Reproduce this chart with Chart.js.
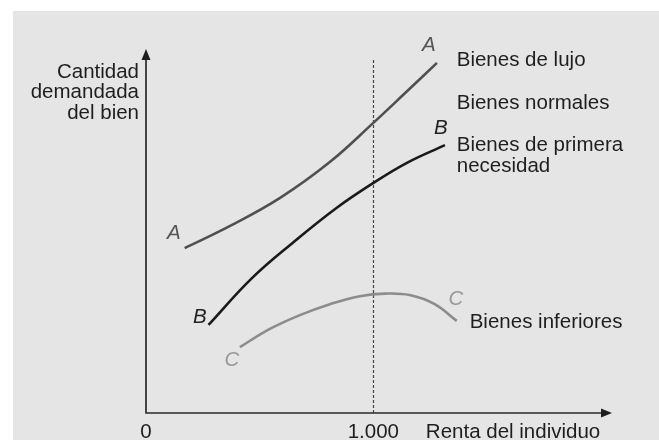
<!DOCTYPE html>
<html>
<head>
<meta charset="utf-8">
<script src="https://cdn.jsdelivr.net/npm/chart.js@4"></script>
<style>
  html, body { margin: 0; padding: 0; background: #ffffff; }
  #wrap { position: absolute; left: 13px; top: 11px; width: 646px; height: 429px; background: #e5e5e5; }
  canvas { display: block; }
</style>
</head>
<body>
<div id="wrap"><canvas id="c" width="646" height="429"></canvas></div>
<script>
// ---- data ----
const lujoX = [170, 370, 590, 810, 1000, 1140, 1280];
const lujoY = [45.3, 51.4, 59.1, 69.0, 79.7, 87.9, 96.2];
const necesidadX = [275, 465, 650, 835, 1000, 1150, 1315];
const necesidadY = [24.2, 37.0, 47.0, 56.2, 63.2, 68.8, 73.6];
const inferioresX = [413, 545, 677, 809, 941, 1051, 1160, 1270, 1367];
const inferioresY = [18.1, 23.1, 26.9, 29.9, 32.1, 32.8, 32.4, 29.9, 25.3];
const tickValues = [0, 1000];
const tickLabels = ["0", "1.000"];
const xAxisTitle = "Renta del individuo";
const yAxisTitle = ["Cantidad", "demandada", "del bien"];
const referenceIncome = 1000;
const referenceTop = 97;

// curve letter labels [text, x, y, colour]
const curveLetters = [
  ["A", 123, 49.5, "#555555"], ["A", 1244, 101, "#555555"],
  ["B", 237, 26.4, "#222222"], ["B", 1297, 78.3, "#222222"],
  ["C", 378, 14.6, "#999999"], ["C", 1363, 31.3, "#999999"]
];
// category labels [text, x, y]
const groupLabels = [
  ["Bienes de lujo", 1367, 97.0],
  ["Bienes normales", 1367, 85.2],
  ["Bienes de primera", 1367, 73.6],
  ["necesidad", 1367, 67.9],
  ["Bienes inferiores", 1424, 25.0]
];

const pts = (xs, ys) => xs.map((x, i) => ({x: x, y: ys[i]}));
const FONT = '20.5px "Liberation Sans", Arial, sans-serif';
const IFONT = 'italic 20.5px "Liberation Sans", Arial, sans-serif';

const decor = {
  id: 'decor',
  beforeDatasetsDraw(chart) {
    const ctx = chart.ctx, xs = chart.scales.x, ys = chart.scales.y;
    const x0 = xs.getPixelForValue(0), y0 = ys.getPixelForValue(0);
    const yTop = ys.getPixelForValue(ys.max), xEnd = xs.getPixelForValue(xs.max);
    ctx.save();
    // dotted reference line
    ctx.strokeStyle = '#444444';
    ctx.lineWidth = 1.2;
    ctx.setLineDash([3, 2]);
    const xr = Math.round(xs.getPixelForValue(referenceIncome)) + 0.5;
    ctx.beginPath();
    ctx.moveTo(xr, ys.getPixelForValue(referenceTop));
    ctx.lineTo(xr, y0);
    ctx.stroke();
    ctx.setLineDash([]);
    // axes
    ctx.strokeStyle = '#2a2a2a';
    ctx.fillStyle = '#1e1e1e';
    ctx.lineWidth = 1.7;
    ctx.beginPath();
    ctx.moveTo(x0, yTop + 10);
    ctx.lineTo(x0, y0);
    ctx.lineTo(xEnd - 10, y0);
    ctx.stroke();
    ctx.beginPath();
    ctx.moveTo(x0, yTop);
    ctx.lineTo(x0 - 4.5, yTop + 11);
    ctx.lineTo(x0 + 4.5, yTop + 11);
    ctx.closePath();
    ctx.fill();
    ctx.beginPath();
    ctx.moveTo(xEnd, y0);
    ctx.lineTo(xEnd - 11, y0 - 4.5);
    ctx.lineTo(xEnd - 11, y0 + 4.5);
    ctx.closePath();
    ctx.fill();
    ctx.restore();
  },
  afterDatasetsDraw(chart) {
    const ctx = chart.ctx, xs = chart.scales.x, ys = chart.scales.y;
    const x0 = xs.getPixelForValue(0), y0 = ys.getPixelForValue(0);
    ctx.save();
    ctx.textBaseline = 'middle';
    // ticks
    ctx.font = FONT;
    ctx.fillStyle = '#1e1e1e';
    ctx.textAlign = 'center';
    tickValues.forEach((v, i) => ctx.fillText(tickLabels[i], xs.getPixelForValue(v), y0 + 19));
    ctx.textAlign = 'left';
    ctx.fillText(xAxisTitle, xs.getPixelForValue(1231), y0 + 19);
    // y title
    ctx.textAlign = 'right';
    yAxisTitle.forEach((t, i) => ctx.fillText(t, x0 - 7, ys.getPixelForValue(93.7) + i * 20.5));
    // group labels
    ctx.textAlign = 'left';
    groupLabels.forEach(g => ctx.fillText(g[0], xs.getPixelForValue(g[1]), ys.getPixelForValue(g[2])));
    // curve letters
    ctx.font = IFONT;
    ctx.textAlign = 'center';
    curveLetters.forEach(l => {
      ctx.fillStyle = l[3];
      ctx.fillText(l[0], xs.getPixelForValue(l[1]), ys.getPixelForValue(l[2]));
    });
    ctx.restore();
  }
};

new Chart(document.getElementById('c'), {
  type: 'line',
  data: {
    datasets: [
      { label: 'Bienes de lujo', data: pts(lujoX, lujoY), borderColor: '#505050' },
      { label: 'Bienes de primera necesidad', data: pts(necesidadX, necesidadY), borderColor: '#1a1a1a' },
      { label: 'Bienes inferiores', data: pts(inferioresX, inferioresY), borderColor: '#8c8c8c' }
    ]
  },
  options: {
    responsive: false,
    animation: false,
    devicePixelRatio: 1,
    layout: { padding: { left: 133, right: 47, top: 38, bottom: 27 } },
    elements: {
      line: { borderWidth: 2.6, tension: 0.4, cubicInterpolationMode: 'default', fill: false, borderCapStyle: 'butt' },
      point: { radius: 0, hoverRadius: 0 }
    },
    plugins: { legend: { display: false }, tooltip: { enabled: false } },
    scales: {
      x: { type: 'linear', min: 0, max: 2050, display: false },
      y: { type: 'linear', min: 0, max: 100, display: false }
    }
  },
  plugins: [decor]
});
</script>
</body>
</html>
